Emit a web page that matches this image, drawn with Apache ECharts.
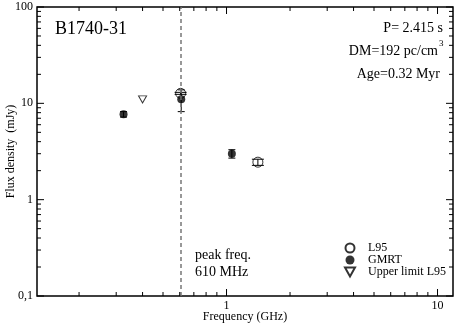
<!DOCTYPE html>
<html><head><meta charset="utf-8">
<script src="https://cdn.jsdelivr.net/npm/echarts@6/dist/echarts.min.js"></script>
<style>html,body{margin:0;padding:0;background:#fff}#c{width:458px;height:326px}</style>
</head><body><div id="c"></div>
<script>
// ---- data ----
const gmrtFreq = [0.325, 0.61, 1.06];
const gmrtFlux = [7.7, 11.0, 3.0];
const gmrtErr  = [0.5, 2.8, 0.3];
const l95Freq  = [0.606, 1.408];
const l95Flux  = [12.7, 2.45];
const l95Err   = [0.3, 0.18];
const limFreq  = [0.40];
const limFlux  = [11.0];
const peakFreq = 0.61;
const xRange = [0.1264, 11.84];
const yRange = [0.1, 100];
const xMajorTicks = [1, 10];
const xMinorTicks = [0.2,0.3,0.4,0.5,0.6,0.7,0.8,0.9,2,3,4,5,6,7,8,9];
const yMajorTicks = [0.1, 1, 10, 100];
const yMinorTicks = [0.2,0.3,0.4,0.5,0.6,0.7,0.8,0.9,2,3,4,5,6,7,8,9,20,30,40,50,60,70,80,90];
const seriesNames = ['L95', 'GMRT', 'Upper limit L95'];
const annoTitle = 'B1740-31';
const annoP = 'P= 2.415 s';
const annoDM = 'DM=192 pc/cm';
const annoAge = 'Age=0.32 Myr';
const annoPeak1 = 'peak freq.';
const annoPeak2 = '610 MHz';

const FONT = '"Liberation Serif", "Times New Roman", serif';
const TRI = 'path://M0,0 L10,0 L5,9 Z';
const zip = (a, b) => a.map((v, i) => [v, b[i]]);

function xTickSeries(vals, len) {
  return {
    type: 'custom', silent: true, clip: false, z: 5,
    data: vals.map(v => [v, yRange[0]]),
    renderItem(params, api) {
      const cs = params.coordSys;
      const x = api.coord([api.value(0), yRange[0]])[0];
      const b = cs.y + cs.height, t = cs.y;
      return { type: 'group', children: [
        { type: 'line', shape: { x1: x, y1: b, x2: x, y2: b - len }, style: { stroke: '#000', lineWidth: 1 } },
        { type: 'line', shape: { x1: x, y1: t, x2: x, y2: t + len }, style: { stroke: '#000', lineWidth: 1 } }
      ]};
    }
  };
}
function yTickSeries(vals, len) {
  return {
    type: 'custom', silent: true, clip: false, z: 5,
    data: vals.map(v => [xRange[0], v]),
    renderItem(params, api) {
      const cs = params.coordSys;
      const y = api.coord([xRange[0], api.value(1)])[1];
      const l = cs.x, r = cs.x + cs.width;
      return { type: 'group', children: [
        { type: 'line', shape: { x1: l, y1: y, x2: l + len, y2: y }, style: { stroke: '#000', lineWidth: 1 } },
        { type: 'line', shape: { x1: r, y1: y, x2: r - len, y2: y }, style: { stroke: '#000', lineWidth: 1 } }
      ]};
    }
  };
}
function errSeries(fr, fl, er, cap) {
  return {
    type: 'custom', silent: true, z: 2,
    data: fr.map((f, i) => [f, fl[i] - er[i], fl[i] + er[i]]),
    renderItem(params, api) {
      const lo = api.coord([api.value(0), api.value(1)]);
      const hi = api.coord([api.value(0), api.value(2)]);
      const st = { stroke: '#000', lineWidth: 1 };
      return { type: 'group', children: [
        { type: 'line', shape: { x1: lo[0], y1: lo[1], x2: hi[0], y2: hi[1] }, style: st },
        { type: 'line', shape: { x1: lo[0] - cap, y1: lo[1], x2: lo[0] + cap, y2: lo[1] }, style: st },
        { type: 'line', shape: { x1: hi[0] - cap, y1: hi[1], x2: hi[0] + cap, y2: hi[1] }, style: st }
      ]};
    }
  };
}

const chart = echarts.init(document.getElementById('c'), null, { renderer: 'canvas' });
chart.setOption({
  animation: false,
  backgroundColor: '#fff',
  grid: { left: 37, right: 5, top: 7, bottom: 30, containLabel: false, outerBoundsMode: 'none',
          show: true, borderColor: '#000', borderWidth: 1.5, backgroundColor: 'transparent' },
  xAxis: {
    type: 'log', logBase: 10, min: xRange[0], max: xRange[1],
    axisLine: { show: false }, axisTick: { show: false }, splitLine: { show: false },
    axisLabel: {
      fontFamily: FONT, fontSize: 12, color: '#000', margin: 4,
      showMinLabel: false, showMaxLabel: false,
      formatter: v => { const l = Math.log10(v); const r = Math.round(l); return Math.abs(l - r) < 1e-6 && xMajorTicks.includes(Math.pow(10, r)) ? String(Math.pow(10, r)) : ''; }
    },
    name: 'Frequency (GHz)', nameLocation: 'middle', nameGap: 15, nameMoveOverlap: false,
    nameTextStyle: { fontFamily: FONT, fontSize: 12, color: '#000' }
  },
  yAxis: {
    type: 'log', logBase: 10, min: yRange[0], max: yRange[1],
    axisLine: { show: false }, axisTick: { show: false }, splitLine: { show: false },
    axisLabel: {
      fontFamily: FONT, fontSize: 12, color: '#000', margin: 4,
      formatter: v => { const l = Math.round(Math.log10(v)); return l < 0 ? '0,1' : String(Math.pow(10, l)); }
    },
    name: 'Flux density  (mJy)', nameLocation: 'middle', nameGap: 20, nameMoveOverlap: false,
    nameTextStyle: { fontFamily: FONT, fontSize: 12, color: '#000' }
  },
  legend: {
    orient: 'vertical', left: 339, top: 237, itemWidth: 26, itemHeight: 9, itemGap: 0,
    data: seriesNames,
    textStyle: { fontFamily: FONT, fontSize: 12, color: '#000' }
  },
  graphic: [
    { type: 'text', x: 55, y: 29, style: { text: annoTitle, font: '18px ' + FONT, fill: '#000', verticalAlign: 'middle', align: 'left' } },
    { type: 'text', x: 443, y: 28, style: { text: annoP, font: '14px ' + FONT, fill: '#000', verticalAlign: 'middle', align: 'right' } },
    { type: 'text', x: 438, y: 51, style: { text: annoDM, font: '14px ' + FONT, fill: '#000', verticalAlign: 'middle', align: 'right' } },
    { type: 'text', x: 439, y: 44, style: { text: '3', font: '9px ' + FONT, fill: '#000', verticalAlign: 'middle', align: 'left' } },
    { type: 'text', x: 440, y: 74, style: { text: annoAge, font: '14px ' + FONT, fill: '#000', verticalAlign: 'middle', align: 'right' } },
    { type: 'text', x: 195, y: 255, style: { text: annoPeak1, font: '14px ' + FONT, fill: '#000', verticalAlign: 'middle', align: 'left' } },
    { type: 'text', x: 195, y: 272, style: { text: annoPeak2, font: '14px ' + FONT, fill: '#000', verticalAlign: 'middle', align: 'left' } }
  ],
  series: [
    xTickSeries(xMajorTicks, 7), xTickSeries(xMinorTicks, 4),
    yTickSeries(yMajorTicks, 7), yTickSeries(yMinorTicks, 4),
    errSeries(gmrtFreq, gmrtFlux, gmrtErr, 3.5),
    errSeries(l95Freq, l95Flux, l95Err, 6),
    {
      name: seriesNames[0], type: 'scatter', z: 4, data: zip(l95Freq, l95Flux),
      symbol: 'circle', symbolSize: 10,
      itemStyle: { color: 'rgba(255,255,255,0)', borderColor: '#000', borderWidth: 1 }
    },
    {
      name: seriesNames[1], type: 'scatter', z: 3, data: zip(gmrtFreq, gmrtFlux),
      symbol: 'circle', symbolSize: 8, itemStyle: { color: '#000' },
      markLine: {
        silent: true, symbol: 'none', label: { show: false },
        lineStyle: { type: [4, 3], color: '#777', width: 1.5 },
        data: [{ xAxis: peakFreq }]
      }
    },
    {
      name: seriesNames[2], type: 'scatter', z: 4, data: zip(limFreq, limFlux),
      symbol: TRI, symbolSize: [8, 7],
      itemStyle: { color: 'rgba(255,255,255,0)', borderColor: '#000', borderWidth: 1 }
    }
  ]
});
</script></body></html>
